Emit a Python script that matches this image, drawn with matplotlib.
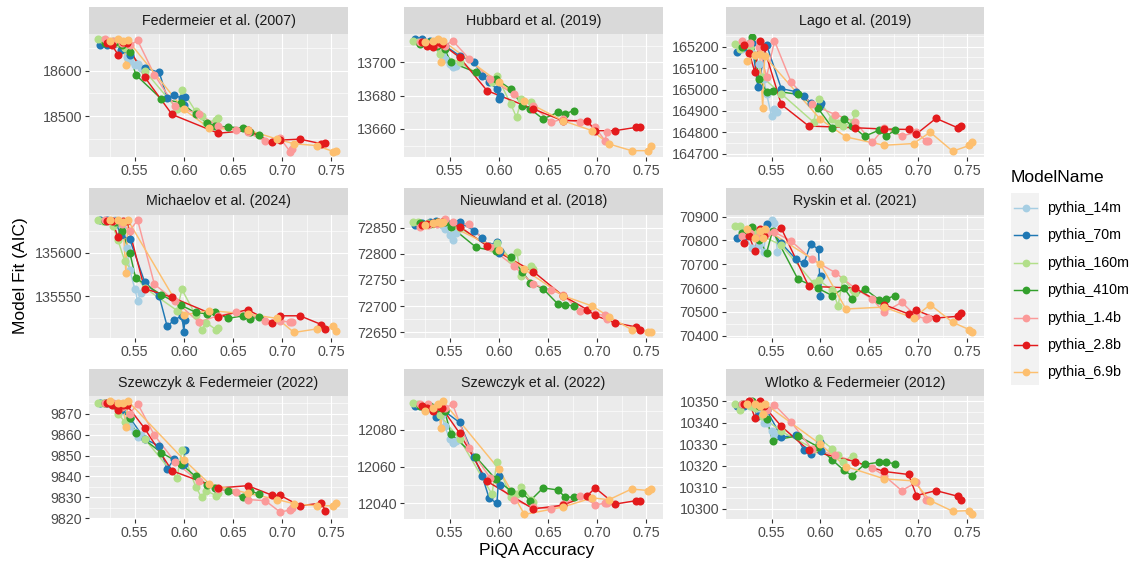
import matplotlib.pyplot as plt
import matplotlib.ticker as ticker
from matplotlib.patches import Rectangle

plt.rcParams['font.family'] = ['Liberation Sans', 'DejaVu Sans']

models = ['pythia_14m', 'pythia_70m', 'pythia_160m', 'pythia_410m',
          'pythia_1.4b', 'pythia_2.8b', 'pythia_6.9b']
colors = ['#A6CEE3', '#1F78B4', '#B2DF8A', '#33A02C', '#FB9A99', '#E31A1C', '#FDBF6F']

# PiQA accuracy of each checkpoint (shared by all panels)
x_14m = [0.520, 0.530, 0.537, 0.542, 0.545, 0.550, 0.553, 0.556]
x_70m = [0.515, 0.522, 0.530, 0.536, 0.545, 0.560, 0.575, 0.583, 0.590, 0.598, 0.600, 0.601]
x_160m = [0.513, 0.518, 0.528, 0.533, 0.540, 0.560, 0.593, 0.598, 0.612, 0.618, 0.623, 0.633, 0.635]
x_410m = [0.520, 0.530, 0.537, 0.545, 0.551, 0.577, 0.597, 0.612, 0.624, 0.632, 0.645, 0.660, 0.667, 0.676]
x_1_4b = [0.520, 0.528, 0.537, 0.545, 0.553, 0.570, 0.591, 0.615, 0.635, 0.653, 0.665, 0.683, 0.698, 0.708, 0.710]
x_2_8b = [0.522, 0.527, 0.533, 0.538, 0.542, 0.560, 0.588, 0.635, 0.665, 0.690, 0.698, 0.718, 0.740, 0.744]
x_6_9b = [0.525, 0.533, 0.538, 0.541, 0.543, 0.600, 0.626, 0.665, 0.695, 0.712, 0.735, 0.752, 0.755]
xs = [x_14m, x_70m, x_160m, x_410m, x_1_4b, x_2_8b, x_6_9b]

# AIC per panel, one list per model (same order as models)
federmeier07 = [
    [18662, 18658, 18650, 18630, 18622, 18612, 18615, 18605],
    [18657, 18656, 18660, 18645, 18635, 18606, 18596, 18540, 18546, 18540, 18525, 18542],
    [18668, 18666, 18665, 18660, 18650, 18600, 18516, 18558, 18511, 18500, 18485, 18493, 18496],
    [18660, 18662, 18655, 18640, 18591, 18538, 18530, 18505, 18485, 18478, 18477, 18474, 18465, 18460],
    [18668, 18664, 18660, 18655, 18666, 18591, 18522, 18505, 18478, 18470, 18465, 18445, 18452, 18423, 18429],
    [18660, 18655, 18635, 18662, 18660, 18586, 18504, 18463, 18469, 18443, 18448, 18450, 18440, 18442],
    [18665, 18668, 18665, 18612, 18666, 18515, 18474, 18470, 18450, 18440, 18436, 18423, 18424],
]
hubbard19 = [
    [13712, 13712, 13710, 13705, 13702, 13699, 13697, 13698],
    [13714, 13714, 13713, 13712, 13710, 13704, 13700, 13692, 13688, 13684, 13678, 13680],
    [13713, 13712, 13711, 13710, 13705, 13700, 13688, 13692, 13675, 13667, 13678, 13676, 13674],
    [13711, 13712, 13710, 13708, 13700, 13694, 13690, 13684, 13674, 13672, 13666, 13670, 13669, 13671],
    [13712, 13711, 13711, 13710, 13713, 13702, 13690, 13681, 13674, 13664, 13666, 13664, 13661, 13653, 13658],
    [13712, 13710, 13709, 13712, 13711, 13703, 13683, 13672, 13665, 13665, 13659, 13659, 13661, 13661],
    [13712, 13713, 13714, 13700, 13713, 13688, 13677, 13665, 13659, 13651, 13647, 13647, 13650],
]
lago19 = [
    [165190, 165170, 165120, 165050, 164980, 164875, 164910, 164895],
    [165176, 165200, 165220, 165013, 165208, 165004, 164990, 164970, 164938, 164920, 164926, 164935],
    [165213, 165190, 165200, 165160, 165060, 164980, 164847, 164954, 164860, 164845, 164830, 164847, 164888],
    [165200, 165244, 165051, 164990, 164995, 164977, 164915, 164821, 164863, 164830, 164781, 164810, 164781, 164810],
    [165228, 165220, 165200, 165060, 165228, 165035, 164930, 164883, 164850, 164753, 164821, 164782, 164800, 164758, 164760],
    [165210, 165173, 165082, 165228, 165200, 164930, 164829, 164821, 164815, 164813, 164792, 164865, 164821, 164829],
    [165134, 165160, 165165, 164915, 165155, 164860, 164778, 164739, 164747, 164800, 164711, 164738, 164753],
]
michaelov24 = [
    [135637, 135637, 135630, 135605, 135580, 135559, 135545, 135554],
    [135637, 135637, 135636, 135620, 135615, 135567, 135550, 135516, 135523, 135528, 135510, 135523],
    [135637, 135636, 135630, 135614, 135590, 135560, 135534, 135558, 135529, 135512, 135520, 135512, 135514],
    [135636, 135635, 135625, 135600, 135571, 135552, 135540, 135532, 135530, 135532, 135525, 135528, 135524, 135527],
    [135637, 135636, 135632, 135625, 135637, 135564, 135545, 135521, 135528, 135532, 135530, 135522, 135522, 135521, 135521],
    [135636, 135636, 135618, 135636, 135636, 135559, 135549, 135527, 135535, 135520, 135528, 135528, 135518, 135513],
    [135637, 135637, 135635, 135577, 135637, 135529, 135534, 135530, 135525, 135509, 135513, 135516, 135511],
]
nieuwland18 = [
    [72855, 72858, 72857, 72855, 72848, 72835, 72826, 72840],
    [72855, 72858, 72860, 72862, 72862, 72860, 72844, 72830, 72815, 72823, 72801, 72805],
    [72860, 72861, 72858, 72857, 72858, 72850, 72810, 72821, 72790, 72803, 72758, 72776, 72770],
    [72858, 72856, 72860, 72860, 72852, 72812, 72805, 72793, 72765, 72745, 72733, 72704, 72703, 72700],
    [72852, 72854, 72857, 72866, 72860, 72856, 72812, 72777, 72742, 72730, 72722, 72690, 72685, 72682, 72676],
    [72855, 72857, 72858, 72860, 72860, 72852, 72815, 72766, 72720, 72693, 72682, 72668, 72660, 72654],
    [72855, 72858, 72860, 72858, 72860, 72808, 72770, 72720, 72700, 72680, 72655, 72651, 72651],
]
ryskin21 = [
    [70840, 70767, 70780, 70753, 70860, 70886, 70875, 70753],
    [70809, 70820, 70840, 70820, 70868, 70788, 70721, 70704, 70785, 70763, 70568, 70651],
    [70861, 70862, 70830, 70840, 70820, 70780, 70620, 70635, 70590, 70526, 70640, 70590, 70580],
    [70830, 70855, 70800, 70749, 70840, 70637, 70600, 70568, 70600, 70554, 70597, 70550, 70554, 70568],
    [70820, 70830, 70820, 70830, 70835, 70798, 70721, 70665, 70600, 70553, 70498, 70540, 70481, 70471, 70475],
    [70791, 70820, 70756, 70850, 70820, 70851, 70607, 70600, 70530, 70491, 70506, 70474, 70481, 70495],
    [70850, 70810, 70840, 70810, 70850, 70700, 70512, 70520, 70474, 70530, 70456, 70425, 70414],
]
szewczyk_fed22 = [
    [9875, 9874, 9872, 9866, 9864, 9861, 9859, 9860],
    [9875, 9875, 9874, 9871.6, 9868, 9858, 9854.5, 9843.5, 9848.2, 9845.5, 9846, 9852.6],
    [9875.2, 9875, 9874, 9870, 9866, 9858, 9839.2, 9852.6, 9835.2, 9830, 9833.2, 9830.8, 9832],
    [9875, 9874, 9873, 9868, 9860.8, 9851.4, 9846, 9840, 9836, 9834.5, 9833, 9830, 9833, 9831.8],
    [9875, 9875, 9873, 9870, 9874.7, 9859.7, 9847, 9837.6, 9834, 9832.6, 9829, 9828.4, 9823, 9824, 9825],
    [9875, 9874, 9871.6, 9874, 9874, 9863, 9842.7, 9834.5, 9835.6, 9831, 9831, 9826, 9827.3, 9823.7],
    [9876, 9875, 9875, 9863.7, 9876, 9848, 9836.5, 9832, 9829, 9827, 9826, 9826, 9827.3],
]
szewczyk22 = [
    [12093, 12093, 12091, 12088, 12082, 12075, 12073, 12074],
    [12093, 12093, 12092, 12087, 12090, 12084, 12065, 12055, 12043, 12040, 12055, 12050],
    [12094.7, 12094, 12093, 12092, 12088, 12075, 12045, 12062.4, 12043.6, 12045, 12049, 12042, 12041],
    [12093, 12093, 12092, 12090, 12078, 12065, 12053, 12047, 12045.5, 12041.5, 12048.4, 12047.3, 12043.6, 12043.3],
    [12094, 12094, 12093, 12092, 12093.8, 12070, 12054, 12041.8, 12038, 12037, 12039.6, 12044.2, 12039.3, 12040, 12040],
    [12093, 12092, 12090, 12093, 12092, 12078.2, 12052, 12037, 12039, 12044.2, 12048.4, 12039.6, 12041.5, 12041.5],
    [12090, 12092, 12094, 12081, 12095.6, 12058.7, 12034, 12038, 12043, 12042, 12047.8, 12047, 12047.8],
]
wlotko12 = [
    [10349, 10348, 10344, 10340, 10340, 10336, 10334, 10335],
    [10348, 10348, 10349, 10343, 10346, 10333.4, 10334.2, 10327.5, 10325.3, 10328.4, 10331, 10327],
    [10348.6, 10346, 10348, 10347, 10343, 10336, 10328, 10333, 10328, 10325, 10322, 10324.8, 10322],
    [10349, 10350, 10348, 10342, 10331.8, 10334, 10329, 10322.8, 10317.9, 10315.5, 10320.7, 10321.7, 10321.7, 10321],
    [10349, 10350, 10349, 10346, 10348.4, 10340.4, 10328, 10325, 10322, 10319, 10315.5, 10308.5, 10312.4, 10304.2, 10304],
    [10349, 10350, 10342.4, 10350, 10348, 10338.4, 10327.2, 10322, 10317.4, 10316, 10306.2, 10308.5, 10305.9, 10304.2],
    [10349, 10349, 10348, 10344, 10349, 10330, 10319.7, 10314, 10313, 10303.9, 10298.9, 10299.2, 10297.7],
]

titles = ['Federmeier et al. (2007)', 'Hubbard et al. (2019)', 'Lago et al. (2019)',
          'Michaelov et al. (2024)', 'Nieuwland et al. (2018)', 'Ryskin et al. (2021)',
          'Szewczyk & Federmeier (2022)', 'Szewczyk et al. (2022)', 'Wlotko & Federmeier (2012)']
panel_data = [federmeier07, hubbard19, lago19, michaelov24, nieuwland18, ryskin21,
              szewczyk_fed22, szewczyk22, wlotko12]
ylims = [(18411, 18680), (13643.2, 13717), (164684, 165260),
         (135502.7, 135642.8), (72639, 72874), (70390, 70907),
         (9819.7, 9878.4), (12031.5, 12098.4), (10295.3, 10352.5)]
ysteps = [100, 20, 100, 50, 50, 100, 10, 20, 10]
x_ticks = [0.55, 0.60, 0.65, 0.70, 0.75]

W, H = 1135, 564
fig = plt.figure(figsize=(W / 100, H / 100), dpi=100)
fig.patch.set_facecolor('white')


def box(x, y, w, h):
    return [x / W, 1 - (y + h) / H, w / W, h / H]


col_x = [89, 404, 726]
col_w = [259, 259, 258]
row_y = [34, 215, 396]
ph, sh = 123, 27
txt_col = '#4D4D4D'

for i in range(9):
    r, c = divmod(i, 3)
    ax = fig.add_axes(box(col_x[c], row_y[r], col_w[c], ph))
    ax.set_facecolor('#EBEBEB')
    for s in ax.spines.values():
        s.set_visible(False)
    ax.set_xlim(0.5035, 0.767)
    ax.set_ylim(*ylims[i])
    ax.set_xticks(x_ticks)
    ax.xaxis.set_major_formatter(ticker.FormatStrFormatter('%.2f'))
    ax.yaxis.set_major_locator(ticker.MultipleLocator(ysteps[i]))
    ax.yaxis.set_major_formatter(ticker.StrMethodFormatter('{x:.0f}'))
    ax.xaxis.set_minor_locator(ticker.AutoMinorLocator(2))
    ax.yaxis.set_minor_locator(ticker.AutoMinorLocator(2))
    ax.grid(which='major', color='white', lw=0.85)
    ax.grid(which='minor', color='white', lw=0.45)
    ax.set_axisbelow(True)
    ax.tick_params(which='major', length=3, width=0.8, color='#333333',
                   labelcolor=txt_col, labelsize=10.3, pad=2)
    ax.tick_params(which='minor', length=0)

    for x, y, col in zip(xs, panel_data[i], colors):
        ax.plot(x, y, color=col, lw=1.05, zorder=2)
    for x, y, col in zip(xs, panel_data[i], colors):
        ax.plot(x, y, 'o', color=col, ms=5.8, mew=0, zorder=3)

    sax = fig.add_axes(box(col_x[c], row_y[r] - sh, col_w[c], sh))
    sax.set_facecolor('#D9D9D9')
    sax.set_xticks([])
    sax.set_yticks([])
    for s in sax.spines.values():
        s.set_visible(False)
    sax.text(0.5, 0.5, titles[i], ha='center', va='center', fontsize=10.3,
             color='#1A1A1A', transform=sax.transAxes)

fig.text(537 / W, 1 - 551 / H, 'PiQA Accuracy', ha='center', va='center', fontsize=12.5)
fig.text(21 / W, 1 - 276 / H, 'Model Fit (AIC)', ha='center', va='center',
         rotation=90, fontsize=12.5)

# legend drawn by hand in pixel coordinates
lax = fig.add_axes([0, 0, 1, 1], facecolor='none')
lax.set_xlim(0, W)
lax.set_ylim(H, 0)
lax.axis('off')
lax.text(1011, 177, 'ModelName', ha='left', va='center', fontsize=12.5)
lax.add_patch(Rectangle((1011, 193), 28, 192, facecolor='#F2F2F2', edgecolor='none'))
for k, (m, col) in enumerate(zip(models, colors)):
    yk = 208 + k * 27.4
    lax.plot([1014, 1037], [yk, yk], color=col, lw=1.05)
    lax.plot([1025.5], [yk], 'o', color=col, ms=5.6, mew=0)
    lax.text(1047, yk, m, ha='left', va='center', fontsize=10.3, color='black')

plt.savefig('out.png', dpi=100, facecolor=fig.get_facecolor())
